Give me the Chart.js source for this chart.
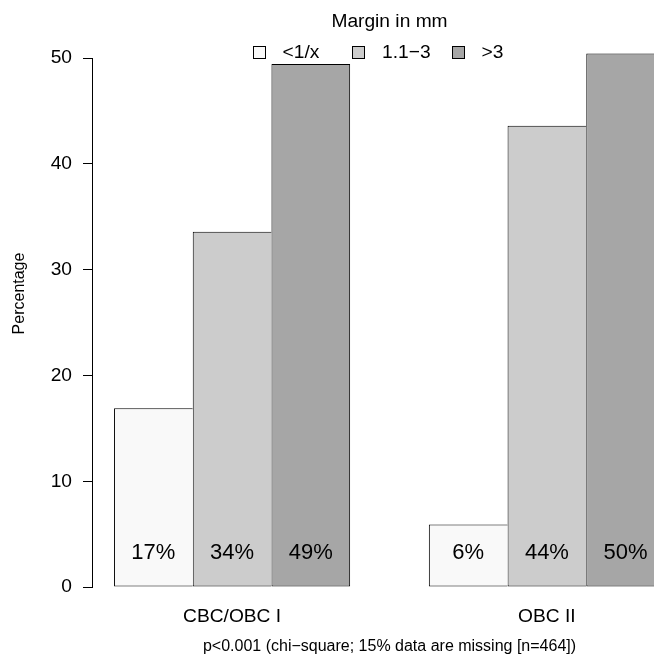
<!DOCTYPE html>
<html>
<head>
<meta charset="utf-8">
<script src="https://cdn.jsdelivr.net/npm/chart.js@4.4.1/dist/chart.umd.min.js"></script>
<style>
  html, body { margin: 0; padding: 0; width: 654px; height: 667px; overflow: hidden; background: #ffffff; }
  #wrap { width: 687px; height: 667px; }
</style>
</head>
<body>
<div id="wrap"><canvas id="chart" width="687" height="667"></canvas></div>
<script>
// Resection margin distribution per group (percent of cases)
const groups = ['CBC/OBC I', 'OBC II'];
const marginClasses = ['<1/x', '1.1\u22123', '>3'];
const pctUnder1 = [16.9, 5.9];
const pct1to3 = [33.6, 43.6];
const pctOver3 = [49.45, 50.45];
const yTicks = [0, 10, 20, 30, 40, 50];
const fills = ['#f9f9f9', '#cccccc', '#a6a6a6'];
const legendTitle = 'Margin in mm';
const footnote = 'p<0.001 (chi\u2212square; 15% data are missing [n=464])';

const FONT = '"Liberation Sans", Arial, Helvetica, sans-serif';
Chart.defaults.font.family = FONT;
Chart.defaults.color = '#000000';

const series = [pctUnder1, pct1to3, pctOver3];
const datasets = series.map((vals, i) => ({
  label: marginClasses[i],
  data: vals.map((v, g) => ({ x: g, y: v })),
  backgroundColor: fills[i],
  borderColor: '#000000',
  borderWidth: i < series.length - 1 ? { top: 1, left: 1, bottom: 1, right: 0 } : 1,
  borderSkipped: false,
  categoryPercentage: 0.75,
  barPercentage: 1.0,
  clip: false
}));

// rounded percentage printed inside each bar, near its base
const barLabels = {
  id: 'barLabels',
  afterDatasetsDraw(chart) {
    const ctx = chart.ctx;
    const y = chart.scales.y.getPixelForValue(3.2);
    ctx.save();
    ctx.font = '22px ' + FONT;
    ctx.fillStyle = '#000000';
    ctx.textAlign = 'center';
    ctx.textBaseline = 'middle';
    chart.data.datasets.forEach((ds, i) => {
      chart.getDatasetMeta(i).data.forEach((bar, j) => {
        ctx.fillText(Math.round(series[i][j]) + '%', bar.x, y);
      });
    });
    ctx.restore();
  }
};

// y axis line running only from the first to the last tick
const axisLine = {
  id: 'axisLine',
  afterDraw(chart) {
    const s = chart.scales.y;
    const ctx = chart.ctx;
    const x = Math.round(chart.chartArea.left - 0.5) + 0.5;
    const y0 = Math.round(s.getPixelForValue(yTicks[0]) - 0.5) + 0.5;
    const y1 = Math.round(s.getPixelForValue(yTicks[yTicks.length - 1]) - 0.5) + 0.5;
    ctx.save();
    ctx.strokeStyle = '#000000';
    ctx.lineWidth = 1;
    ctx.beginPath();
    ctx.moveTo(x, y0 + 0.5);
    ctx.lineTo(x, y1 - 0.5);
    ctx.stroke();
    ctx.restore();
  }
};

// horizontal legend laid over the top of the plot
const marginLegend = {
  id: 'marginLegend',
  afterDraw(chart) {
    const ctx = chart.ctx;
    const area = chart.chartArea;
    const cx = (area.left + area.right) / 2;
    ctx.save();
    ctx.font = '19.2px ' + FONT;
    ctx.fillStyle = '#000000';
    ctx.textAlign = 'center';
    ctx.textBaseline = 'middle';
    ctx.fillText(legendTitle, cx, 22);
    const col = 99.5;
    const x0 = cx - 137;
    chart.data.datasets.forEach((ds, i) => {
      const bx = Math.round(x0 + i * col) + 0.5;
      const by = 46.5;
      ctx.fillStyle = ds.backgroundColor;
      ctx.fillRect(bx, by, 12, 12);
      ctx.strokeStyle = '#000000';
      ctx.lineWidth = 1;
      ctx.strokeRect(bx, by, 12, 12);
      ctx.fillStyle = '#000000';
      ctx.textAlign = 'left';
      ctx.fillText(ds.label, x0 + i * col + 30, 52.5);
    });
    ctx.restore();
  }
};

new Chart(document.getElementById('chart'), {
  type: 'bar',
  data: { datasets },
  options: {
    responsive: false,
    animation: false,
    events: [],
    layout: { padding: 0 },
    plugins: {
      legend: { display: false },
      tooltip: { enabled: false },
      title: { display: false }
    },
    scales: {
      x: {
        type: 'linear',
        position: 'bottom',
        offset: false,
        grace: 0,
        min: -0.445,
        max: 1.445,
        afterBuildTicks: (scale) => { scale.ticks = groups.map((_, i) => ({ value: i })); },
        afterFit: (scale) => { scale.height = 80; },
        grid: { display: false, drawTicks: false, offset: false },
        border: { display: false },
        ticks: {
          autoSkip: false,
          maxRotation: 0,
          padding: 18,
          color: '#000000',
          font: { size: 19.2 },
          callback: (v) => groups[v]
        },
        title: {
          display: true,
          text: footnote,
          color: '#000000',
          font: { size: 16, lineHeight: 1.2 },
          padding: { top: 0, bottom: 10.4 }
        }
      },
      y: {
        type: 'linear',
        min: 0,
        max: 55.5,
        afterBuildTicks: (scale) => { scale.ticks = yTicks.map(v => ({ value: v })); },
        afterFit: (scale) => { scale.width = 92; scale.paddingTop = 0; scale.paddingBottom = 0; },
        grid: {
          display: true,
          drawOnChartArea: false,
          drawTicks: true,
          tickLength: 9,
          color: '#000000',
          lineWidth: 1
        },
        border: { display: false },
        ticks: {
          padding: 11,
          color: '#000000',
          font: { size: 19.2 }
        },
        title: {
          display: true,
          text: 'Percentage',
          color: '#000000',
          font: { size: 16, lineHeight: 1.2 },
          padding: { top: 10, bottom: 0 }
        }
      }
    }
  },
  plugins: [barLabels, axisLine, marginLegend]
});
</script>
</body>
</html>
